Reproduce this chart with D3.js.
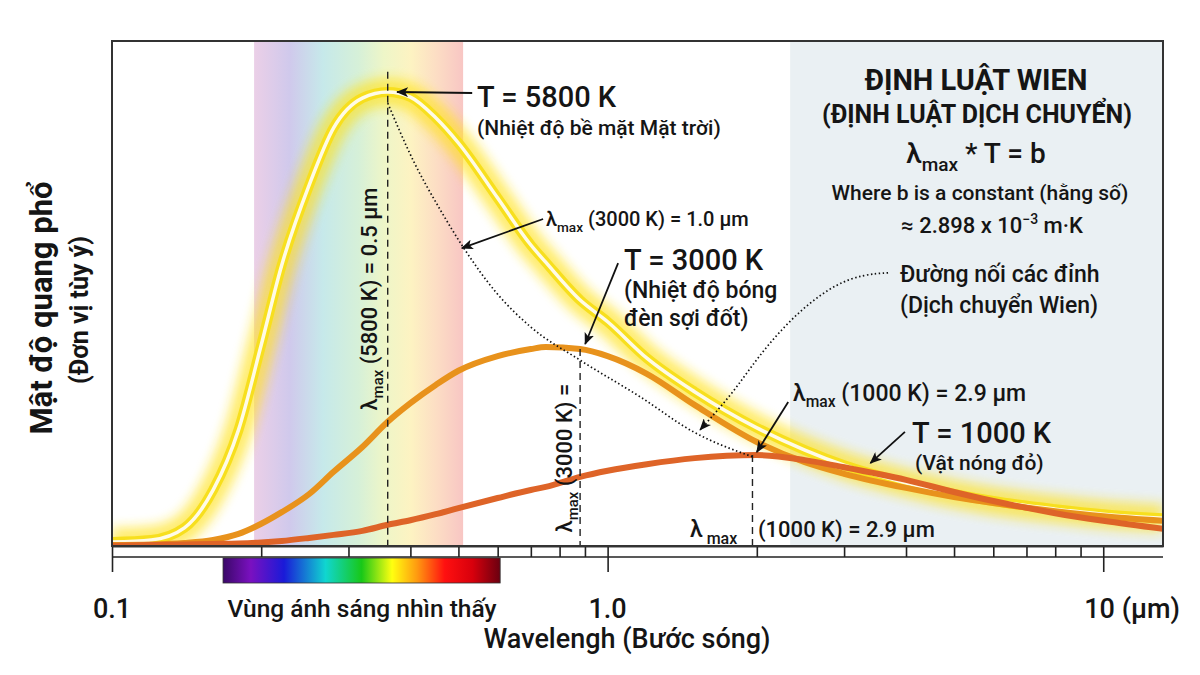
<!DOCTYPE html>
<html>
<head>
<meta charset="utf-8">
<script src="https://cdn.jsdelivr.net/npm/d3@7"></script>
<style>
  body{margin:0;background:#fff;}
  svg{display:block;}
  text{font-family:Roboto,"Noto Sans",sans-serif;fill:#151515;}
</style>
</head>
<body>
<div id="canvas"></div>
<script>
// wavelength samples (um) and spectral density (arbitrary units)
var wavelengths = [0.1,0.12,0.14,0.16,0.18,0.2,0.22,0.25,0.28,0.32,0.36,0.4,0.45,0.5,0.6,0.7,0.75,0.88,1.0,1.2,1.5,2.0,2.5,3,4,5,6,8,10,13.2];
var sun5800  = [0.8,1.2,3.6,11.1,23.0,39.8,55.6,71.5,82.8,88.7,89.9,88.9,84.8,79.8,68.9,59.6,56.2,48.7,44.4,37.2,30.5,23.4,19.0,16.0,12.5,10.3,8.9,7.3,6.3,5.5];
var lamp3000 = [0.2,0.3,0.6,1.2,2.4,4.4,6.7,10.3,14.7,19.6,24.6,28.3,31.9,34.7,37.6,39.0,39.4,39.0,37.6,34.1,27.9,20.6,16.6,14.3,11.5,9.7,8.5,6.9,5.9,5.0];
var hot1000  = [0,0.2,0.3,0.4,0.5,0.7,1.0,1.6,2.2,3.0,4.2,5.1,6.3,7.5,9.5,11.1,11.7,13.7,14.9,16.2,17.4,18.0,17.0,15.6,13.1,10.7,8.9,6.5,5.0,3.4];

// peaks and the Wien displacement line
var peakWave = [0.36, 0.88, 1.96];
var peakTop  = [93.9, 39.0, 18.0];
var wienWave  = [0.36,0.405,0.46,0.511,0.597,0.699,0.88,1.165,1.49,1.97];
var wienValue = [87.7,76.4,66.5,59.2,50.1,43.4,36.8,29.5,22.6,17.6];

// callout arrows [fromWave, fromValue, toWave, toValue]
var arrows = [
  [0.533,89.7,0.376,89.9],
  [0.741,64.75,0.508,59.0],
  [1.05,56.0,0.901,40.0],
  [2.314,28.5,2.0,18.6],
  [3.98,22.6,3.39,16.4]
];
var leaderWave  = [3.68,3.3,2.9,2.5,2.2,1.98,1.78,1.537];
var leaderValue = [54.1,53.8,52.0,47.5,42.0,36.5,30.0,23.0];

// regions and ticks
var visibleBand = [0.1935, 0.511];
var visibleBar  = [0.1675, 0.607];
var infraredStart = 2.335;
var minorTicks = [0.2,0.3,0.4,0.5,0.6,0.7,0.8,0.9,2,3,4,5,6,7,8,9];
var majorTicks = [0.1,1,10];
var majorLabels = ['0.1','1.0','10 (µm)'];

var W = 1200, H = 675,
    m = {t:41,r:37,b:129,l:112},
    w = W - m.l - m.r,
    h = H - m.t - m.b;

var svg = d3.select('#canvas').append('svg')
    .attr('width', W).attr('height', H);
var defs = svg.append('defs');

var x = d3.scaleLog().domain([0.1, 13.2]).range([0, w]);
var y = d3.scaleLinear().domain([0, 100]).range([h, 0]);

// gradients
var band = defs.append('linearGradient').attr('id','band');
[[0,'#ebcfe7'],[0.17,'#d0c9ec'],[0.33,'#c6e9ea'],[0.5,'#d6f0d8'],[0.62,'#eef6c8'],[0.75,'#fdf3c2'],[0.88,'#fcdcc4'],[1,'#f8c6c4']]
  .forEach(function(s){ band.append('stop').attr('offset',s[0]).attr('stop-color',s[1]); });
var spec = defs.append('linearGradient').attr('id','spec');
[[0,'#3a0868'],[0.1,'#7a10c0'],[0.22,'#1a1ad8'],[0.37,'#10d6d0'],[0.5,'#18c818'],[0.61,'#ffff10'],[0.7,'#ff9a10'],[0.8,'#ff1010'],[0.9,'#d8000c'],[1,'#6a0010']]
  .forEach(function(s){ spec.append('stop').attr('offset',s[0]).attr('stop-color',s[1]); });

defs.append('filter').attr('id','glow')
    .attr('x','-10%').attr('y','-10%').attr('width','120%').attr('height','120%')
  .append('feGaussianBlur').attr('stdDeviation', 6);
defs.append('clipPath').attr('id','clip')
  .append('rect').attr('width', w).attr('height', h);
defs.append('marker').attr('id','head')
    .attr('viewBox','0 0 12 10').attr('refX',11).attr('refY',5)
    .attr('markerWidth',12).attr('markerHeight',10).attr('markerUnits','userSpaceOnUse')
    .attr('orient','auto')
  .append('path').attr('d','M0,0 L12,5 L0,10 L3,5 z').attr('fill','#111');

var plot = svg.append('g').attr('transform','translate('+m.l+','+m.t+')');

// backgrounds
plot.append('rect').attr('width', w).attr('height', h).attr('fill','#fff');
plot.append('rect')
    .attr('x', x(visibleBand[0])).attr('width', x(visibleBand[1]) - x(visibleBand[0]))
    .attr('height', h).attr('fill','url(#band)');
plot.append('rect')
    .attr('x', x(infraredStart)).attr('width', w - x(infraredStart))
    .attr('height', h).attr('fill','#eaf0f3');

var line = d3.line()
    .x(function(d){ return x(d[0]); })
    .y(function(d){ return y(d[1]); })
    .curve(d3.curveMonotoneX);

function pairs(a, b){ return a.map(function(v,i){ return [v, b[i]]; }); }

var curves = plot.append('g').attr('clip-path','url(#clip)');
var sun = pairs(wavelengths, sun5800);
curves.append('path').attr('d', line(sun)).attr('fill','none')
    .attr('stroke','#ffe21a').attr('stroke-width',28).attr('opacity',0.65).attr('filter','url(#glow)');
curves.append('path').attr('d', line(sun)).attr('fill','none')
    .attr('stroke','#f7df1e').attr('stroke-width',10);
curves.append('path').attr('d', line(sun)).attr('fill','none')
    .attr('stroke','#fffbe6').attr('stroke-width',3.5);

curves.append('path').attr('d', line(pairs(wavelengths, lamp3000))).attr('fill','none')
    .attr('stroke','#e8921c').attr('stroke-width',6);
curves.append('path').attr('d', line(pairs(wavelengths, hot1000))).attr('fill','none')
    .attr('stroke','#de6428').attr('stroke-width',6);

// dashed peak markers
plot.selectAll('.peak').data(peakWave).enter().append('line')
    .attr('class','peak')
    .attr('x1', function(d){ return x(d); }).attr('x2', function(d){ return x(d); })
    .attr('y1', function(d,i){ return y(peakTop[i]); }).attr('y2', h)
    .attr('stroke','#222').attr('stroke-width',1.4).attr('stroke-dasharray','7,5');

// Wien displacement (dotted)
plot.append('path').attr('d', line(pairs(wienWave, wienValue)))
    .attr('fill','none').attr('stroke','#111').attr('stroke-width',1.7).attr('stroke-dasharray','1.5,2.5');

// arrows
plot.selectAll('.arrow').data(arrows).enter().append('line')
    .attr('class','arrow')
    .attr('x1', function(d){ return x(d[0]); }).attr('y1', function(d){ return y(d[1]); })
    .attr('x2', function(d){ return x(d[2]); }).attr('y2', function(d){ return y(d[3]); })
    .attr('stroke','#111').attr('stroke-width',1.8).attr('marker-end','url(#head)');
plot.append('path')
    .attr('d', d3.line().x(function(d){ return x(d[0]); }).y(function(d){ return y(d[1]); })
      .curve(d3.curveBasis)(pairs(leaderWave, leaderValue)))
    .attr('fill','none').attr('stroke','#111').attr('stroke-width',1.7)
    .attr('stroke-dasharray','1.5,2.5').attr('marker-end','url(#head)');

// axis: minor ticks between two rules, long major ticks
var ax = plot.append('g').attr('transform','translate(0,'+h+')');
ax.call(d3.axisBottom(x).tickValues(minorTicks).tickSize(11).tickSizeOuter(0).tickFormat(''));
ax.append('g').call(d3.axisBottom(x).tickValues(majorTicks).tickSize(26).tickSizeOuter(0).tickFormat(''));
ax.selectAll('path,line').attr('stroke','#222').attr('stroke-width',1.6);
ax.append('line').attr('x1',0).attr('x2',w).attr('y1',11).attr('y2',11)
    .attr('stroke','#222').attr('stroke-width',1.6);

plot.append('rect').attr('width', w).attr('height', h)
    .attr('fill','none').attr('stroke','#333').attr('stroke-width',2);

// visible spectrum bar
plot.append('rect')
    .attr('x', x(visibleBar[0])).attr('y', h + 12)
    .attr('width', x(visibleBar[1]) - x(visibleBar[0])).attr('height', 25)
    .attr('fill','url(#spec)').attr('stroke','#333').attr('stroke-width',0.8);

plot.selectAll('.tlab').data(majorTicks).enter().append('text')
    .attr('class','tlab')
    .attr('x', function(d,i){ return i == 2 ? x(d) - 19 : x(d); })
    .attr('y', h + 72)
    .attr('text-anchor', function(d,i){ return i == 2 ? 'start' : 'middle'; })
    .style('font-size','27px').style('font-weight',500)
    .text(function(d,i){ return majorLabels[i]; });

// ---- texts
function txt(px, py, s, size, weight, anchor){
  return svg.append('text').attr('x',px).attr('y',py)
    .attr('text-anchor', anchor || 'start')
    .style('font-size', size+'px').style('font-weight', weight || 500).text(s);
}
function lambdaMax(g, size, rest){
  g.append('tspan').text('λ');
  g.append('tspan').attr('dy', size*0.28).style('font-size', (size*0.68)+'px').text('max');
  g.append('tspan').attr('dy', -size*0.28).text(rest);
}

txt(477, 107, 'T = 5800 K', 29, 500);
txt(477, 135, '(Nhiệt độ bề mặt Mặt trời)', 21);
lambdaMax(txt(546, 226, '', 20), 20, ' (3000 K) = 1.0 µm');
txt(624, 270, 'T = 3000 K', 29, 500);
txt(624, 298, '(Nhiệt độ bóng', 23);
txt(624, 326, 'đèn sợi đốt)', 23);
txt(900, 282, 'Đường nối các đỉnh', 23);
txt(900, 313, '(Dịch chuyển Wien)', 23);
lambdaMax(txt(793, 401, '', 23), 23, ' (1000 K) = 2.9 µm');
txt(912, 443, 'T = 1000 K', 29, 500);
txt(915, 470, '(Vật nóng đỏ)', 21);

var bl = txt(690, 537, '', 23);
bl.append('tspan').text('λ');
bl.append('tspan').attr('dx',4).attr('dy',7).style('font-size','16px').text('max');
txt(758, 537, '(1000 K) = 2.9 µm', 22);

// rotated lambda labels
var r1 = svg.append('text').attr('transform','translate(377,299) rotate(-90)')
    .attr('text-anchor','middle').style('font-size','22px').style('font-weight',500);
lambdaMax(r1, 22, ' (5800 K) = 0.5 µm');
var r2 = svg.append('text').attr('transform','translate(572,458) rotate(-90)')
    .attr('text-anchor','middle').style('font-size','22px').style('font-weight',500);
lambdaMax(r2, 22, ' (3000 K) =');

// Wien law box
txt(976, 90, 'ĐỊNH LUẬT WIEN', 29, 700, 'middle');
txt(977, 123, '(ĐỊNH LUẬT DỊCH CHUYỂN)', 25, 700, 'middle');
lambdaMax(txt(976, 163, '', 28, 500, 'middle'), 28, ' * T = b');
txt(980, 200, 'Where b is a constant (hằng số)', 21, 500, 'middle');
var bc = txt(992, 233, '≈ 2.898 x 10', 22, 500, 'middle');
bc.append('tspan').attr('dy',-9).style('font-size','14px').text('−3');
bc.append('tspan').attr('dy',9).text(' m·K');

// axis titles
txt(362, 617, 'Vùng ánh sáng nhìn thấy', 24.5, 500, 'middle');
txt(627, 648, 'Wavelengh (Bước sóng)', 27, 500, 'middle');
svg.append('text').attr('transform','translate(52,308) rotate(-90)')
    .attr('text-anchor','middle').style('font-size','31px').style('font-weight',700)
    .text('Mật độ quang phổ');
svg.append('text').attr('transform','translate(88,310) rotate(-90)')
    .attr('text-anchor','middle').style('font-size','25px').style('font-weight',700)
    .text('(Đơn vị tùy ý)');
</script>
</body>
</html>
